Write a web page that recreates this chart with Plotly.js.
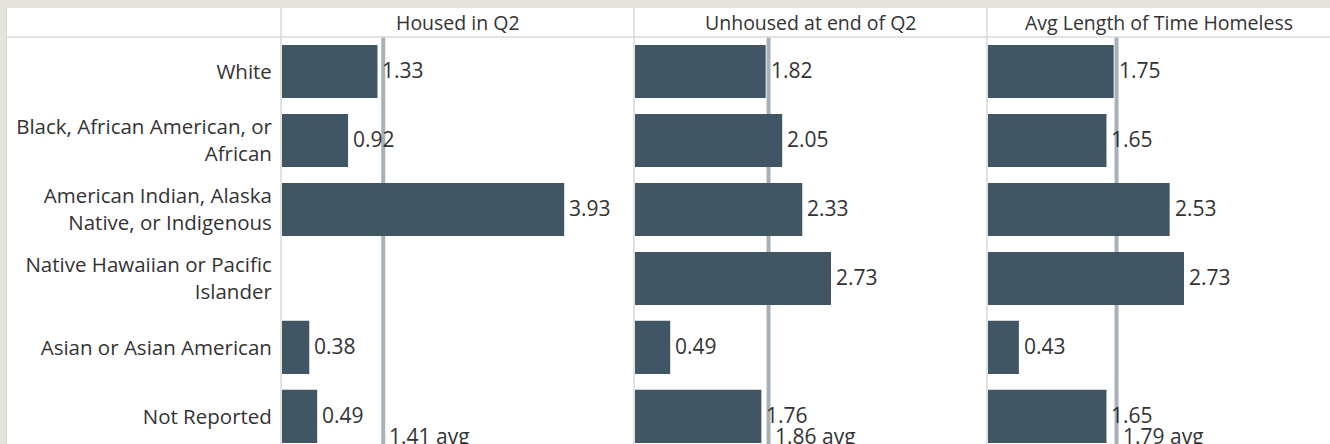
<!DOCTYPE html>
<html><head><meta charset="utf-8">
<script src="https://cdn.plot.ly/plotly-3.0.1.min.js"></script>
<style>html,body{margin:0;padding:0;background:#fff;} #chart{width:1330px;height:444px;}</style>
</head><body><div id="chart"></div>
<script>
const categories = ["White", "Black, African American, or<br>African", "American Indian, Alaska<br>Native, or Indigenous", "Native Hawaiian or Pacific<br>Islander", "Asian or Asian American", "Not Reported"];
const measures = ["Housed in Q2", "Unhoused at end of Q2", "Avg Length of Time Homeless"];
const housedQ2 = [1.33, 0.92, 3.93, null, 0.38, 0.49];
const unhousedQ2 = [1.82, 2.05, 2.33, 2.73, 0.49, 1.76];
const avgTimeHomeless = [1.75, 1.65, 2.53, 2.73, 0.43, 1.65];
const averages = [1.41, 1.86, 1.79];
const seriesList = [housedQ2, unhousedQ2, avgTimeHomeless];

const W = 1330, H = 444;
const FONT = "Open Sans, sans-serif";
const TXT = "#333333";
const BAR = "#415665";
const AVG = "#a7b1b7";
const GRID = "#d9d9d9";
const headerBottom = 37;
const panels = [[282, 634], [635, 987], [988, 1330]];
const pxPerUnit = 71.8;
const yTop = (H - headerBottom) / H;

const data = [];
const shapes = [];
const annotations = [];
const layout = {
  width: W, height: H,
  margin: {l: 0, r: 0, t: 0, b: 0},
  paper_bgcolor: "#ffffff", plot_bgcolor: "#ffffff",
  showlegend: false,
  font: {family: FONT, size: 20, color: TXT},
  bargap: 0.23,
  yaxis: {
    type: "category", categoryarray: categories, categoryorder: "array",
    range: [5.4, -0.5], domain: [0, yTop], anchor: "x",
    showgrid: false, zeroline: false, showline: false,
    ticks: "outside", ticklen: 5, tickcolor: "rgba(0,0,0,0)",
    tickfont: {family: FONT, size: 20.5, color: TXT}, fixedrange: true
  }
};

seriesList.forEach((vals, i) => {
  const ax = i === 0 ? "" : String(i + 1);
  const xa = "x" + ax;
  const [l, r] = panels[i];
  layout["xaxis" + ax] = {
    domain: [l / W, r / W], range: [0, (r - l) / pxPerUnit], anchor: "y",
    showgrid: false, zeroline: false, showline: false, showticklabels: false, ticks: "", fixedrange: true
  };
  data.push({
    type: "bar", orientation: "h", x: vals, y: categories, xaxis: xa, yaxis: "y",
    marker: {color: BAR, line: {width: 0}}, hoverinfo: "skip"
  });
  vals.forEach((v, k) => {
    if (v === null) return;
    annotations.push({xref: xa, yref: "y", x: v, y: categories[k], xanchor: "left", yanchor: "middle", xshift: 3, yshift: 1,
      text: v.toFixed(2), showarrow: false, font: {family: FONT, size: 21, color: TXT}});
  });
  shapes.push({type: "line", layer: "below", xref: xa, yref: "paper", x0: averages[i], x1: averages[i], y0: 0, y1: yTop,
    line: {color: AVG, width: 4}});
  annotations.push({xref: xa, yref: "paper", x: averages[i], y: 0, xanchor: "left", yanchor: "bottom", xshift: 4, yshift: -8,
    text: averages[i].toFixed(2) + " avg", showarrow: false, font: {family: FONT, size: 21, color: TXT}});
  annotations.push({xref: "paper", yref: "paper", x: (l + r) / 2 / W, y: (H - 22) / H, xanchor: "center", yanchor: "middle",
    text: measures[i], showarrow: false, font: {family: FONT, size: 19.5, color: TXT}});
  shapes.push({type: "line", layer: "above", xref: "paper", yref: "paper", x0: (l - 1) / W, x1: (l - 1) / W, y0: 0, y1: (H - 8) / H,
    line: {color: GRID, width: 1.5}});
});

// header separator and frame
shapes.push({type: "line", layer: "above", xref: "paper", yref: "paper", x0: 6 / W, x1: 1, y0: yTop, y1: yTop, line: {color: GRID, width: 1.5}});
shapes.push({type: "rect", layer: "above", xref: "paper", yref: "paper", x0: 0, x1: 1, y0: (H - 8) / H, y1: 1, line: {width: 0}, fillcolor: "#e6e3d8"});
shapes.push({type: "rect", layer: "above", xref: "paper", yref: "paper", x0: 0, x1: 6 / W, y0: 0, y1: 1, line: {width: 0}, fillcolor: "#e6e3d8"});
shapes.push({type: "line", layer: "above", xref: "paper", yref: "paper", x0: 6.5 / W, x1: 6.5 / W, y0: 0, y1: (H - 8) / H, line: {color: GRID, width: 1}});

layout.shapes = shapes;
layout.annotations = annotations;
Plotly.newPlot("chart", data, layout, {displayModeBar: false, staticPlot: true});
</script>
</body></html>
